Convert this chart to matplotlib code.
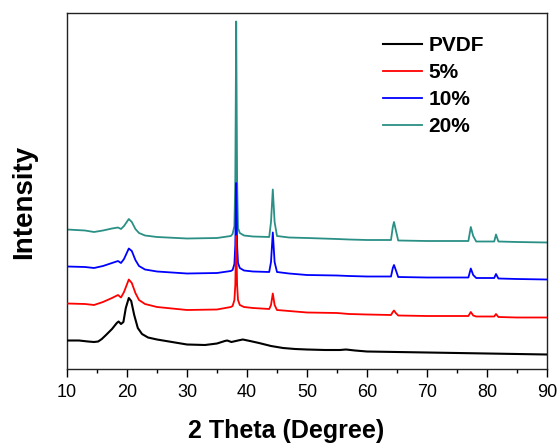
import matplotlib
matplotlib.use('Agg')
import matplotlib.pyplot as plt
from matplotlib.ticker import MultipleLocator

plt.rcParams['font.family'] = ['Liberation Sans', 'DejaVu Sans']

# 2 Theta (degree) and intensity (a.u., curves already stacked)
theta_pvdf = [10, 12, 13.5, 14.5, 15.2, 15.8, 16.5, 17.5, 18.3, 18.6, 19.0, 19.4, 19.8, 20.3, 20.7, 21.2, 21.8,
              22.5, 23.5, 25, 27, 30, 33, 35, 36.3, 36.7, 37.4, 38.5, 39.3, 40.5, 42, 44, 46, 48, 50,
              53, 55.5, 56.5, 58, 60, 65, 70, 75, 80, 85, 90]
int_pvdf = [28.5, 28.5, 27.5, 27, 27.5, 30, 34, 40, 46, 47.5, 45, 47, 61, 71, 68, 54, 41,
            35, 31.5, 29.5, 27.5, 24.5, 24, 25.5, 28, 28.5, 27, 28.5, 29.5, 28, 26, 23, 21, 20, 19.5,
            19, 19, 19.5, 18.5, 17.5, 17, 16.5, 16, 15.5, 15, 14.5]

theta_doped = [10, 13, 14.5, 16, 17.5, 18.5, 19.0, 19.5, 20.3, 20.8, 21.4, 22, 23, 25, 30, 35,
               37.3, 37.6, 37.9, 38.05, 38.2, 38.35, 38.5, 38.8, 39.5, 41, 43.7, 44.0, 44.3, 44.6, 45.0,
               47, 50, 55, 57, 60, 64.0, 64.3, 64.5, 64.8, 65.2, 70, 76.9, 77.3, 77.7, 78.2,
               81.2, 81.5, 81.9, 85, 90]
int_5 = [65.5, 65, 64, 67, 71, 74, 71.5, 77, 89.5, 86, 76, 69, 65, 62, 59, 59.5,
         62, 63, 69, 84, 133, 84, 69, 64, 62, 61, 60, 64, 75.5, 64, 59,
         58, 56.5, 56, 55, 54.5, 54, 57, 58.5, 56, 53.5, 53, 53, 57, 53.5, 52.5,
         52.5, 55, 52, 51.5, 51.5]
int_10 = [102.5, 102, 101, 103, 106, 108, 106, 110, 120.5, 118, 109, 103, 99.5, 97.5, 95.5, 96,
          98, 99, 105, 124, 186, 124, 106, 101, 98.5, 97.5, 97, 107, 136.5, 107, 97,
          95.5, 94, 93.5, 93, 92.5, 92.5, 101, 104, 99, 92, 91.5, 91.5, 100.5, 94, 91,
          91, 95, 90.5, 90, 89.5]
int_20 = [139.5, 138.5, 137, 138.5, 140.5, 141.5, 140, 143, 150, 147, 140, 136, 133.5, 132, 130.5, 131,
          133, 135, 143, 189, 347.5, 189, 141, 136, 133.5, 132.5, 132, 147, 179.5, 147, 133,
          131.5, 131, 130, 129.5, 129, 129, 142, 147, 139, 128.5, 128, 128, 142, 133, 127.5,
          127.5, 134.5, 127.5, 127, 126.5]

labels = ['PVDF', '5%', '10%', '20%']
colors = ['black', '#ff0000', '#0000ff', '#2a9086']

fig = plt.figure(figsize=(5.6, 4.44), dpi=100)
ax = fig.add_axes([67 / 560, 75 / 444, 480 / 560, 356 / 444])

# teal drawn first, black last (as in the original overlap)
h20, = ax.plot(theta_doped, int_20, color=colors[3], lw=1.3, zorder=1)
h10, = ax.plot(theta_doped, int_10, color=colors[2], lw=1.3, zorder=2)
h5, = ax.plot(theta_doped, int_5, color=colors[1], lw=1.3, zorder=3)
h0, = ax.plot(theta_pvdf, int_pvdf, color=colors[0], lw=1.5, zorder=4)

ax.set_xlim(10, 90)
ax.set_ylim(0, 356)
ax.set_yticks([])
ax.xaxis.set_major_locator(MultipleLocator(10))
ax.xaxis.set_minor_locator(MultipleLocator(5))
ax.tick_params(axis='x', which='major', direction='out', length=6, width=1, labelsize=13, pad=5)
ax.tick_params(axis='x', which='minor', direction='out', length=3, width=1)
for s in ax.spines.values():
    s.set_linewidth(1)
    s.set_color('#222222')

ax.set_xlabel('2 Theta (Degree)', fontsize=18, fontweight='bold')
ax.xaxis.set_label_coords(0.456, -0.14)
ax.set_ylabel('Intensity', fontsize=20, fontweight='bold')
ax.yaxis.set_label_coords(-0.062, 0.47)

leg = ax.legend([h0, h5, h10, h20], labels, loc='upper left', bbox_to_anchor=(0.658, 0.935),
                frameon=False, borderpad=0, borderaxespad=0, handlelength=1.9,
                handletextpad=0.3, labelspacing=0.38, prop={'size': 15, 'weight': 'bold'})

fig.savefig('out.png', dpi=100)
